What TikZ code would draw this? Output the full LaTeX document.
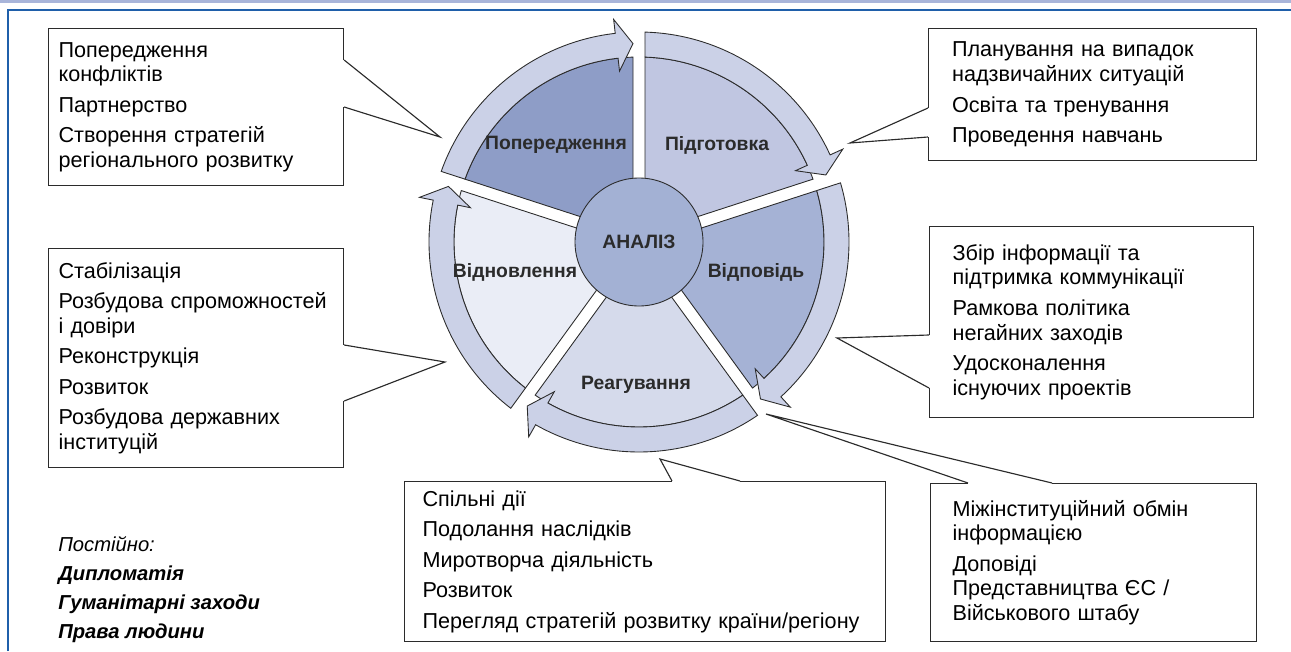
\documentclass[tikz,border=0pt]{standalone}
\usepackage{fontspec}
\setmainfont{Liberation Sans}
\usetikzlibrary{calc}
\definecolor{Ink}{HTML}{2B2B2B}
\definecolor{Frame}{HTML}{1F5FAA}
\definecolor{Strip}{HTML}{A9B5DA}
\definecolor{Band}{HTML}{CBD1E7}
\definecolor{Prev}{HTML}{8E9DC7}
\definecolor{Prep}{HTML}{C0C6E1}
\definecolor{Resp}{HTML}{A5B2D5}
\definecolor{React}{HTML}{D5DAEB}
\definecolor{Recov}{HTML}{EAEDF6}
\definecolor{Core}{HTML}{A3B1D4}
\newcommand{\gapw}{0.12}
% one phase of the cycle: sector plus curved arrow, drawn for 90 -> 18 and rotated
\newcommand{\phase}[2]{
  \begin{scope}[rotate=#1]
    \draw[draw=Ink, line width=0.5pt, fill=#2] ({90-asin(\gapw/1)}:1) -- ({90-asin(\gapw/3.7)}:3.7)
      arc[start angle={90-asin(\gapw/3.7)}, end angle={18+asin(\gapw/3.7)}, radius=3.7]
      -- ({18+asin(\gapw/1)}:1) -- cycle;
    \draw[draw=Ink, line width=0.5pt, fill=Band, line join=miter] ({90-asin(\gapw/3.7)}:3.7) -- ({90-asin(\gapw/4.2)}:4.2)
      arc[start angle={90-asin(\gapw/4.2)}, end angle=24.5, radius=4.2]
      -- (24.5:4.48) -- ({18+asin(\gapw/3.97)}:3.97) -- (24.5:3.44) -- (24.5:3.7)
      arc[start angle=24.5, end angle={90-asin(\gapw/3.7)}, radius=3.7] -- cycle;
  \end{scope}
}
\newcommand{\pointer}[3]{
  \draw[white, line width=1.5pt] (#1) -- (#2);
  \draw[Ink, line width=0.65pt, line join=miter] (#1) -- (#3) -- (#2);
}

\begin{document}
\begin{tikzpicture}[
    info/.style={draw=Ink, line width=0.65pt, align=left, anchor=north west, inner ysep=0pt, font=\fontsize{12.3}{14}\selectfont},
    phaselbl/.style={font=\bfseries\fontsize{11}{13}\selectfont, text=Ink}
  ]
    \useasboundingbox (-12.78,-8.18) rectangle (13.04,4.84);
    % frame
    \fill[Strip] (-12.78,4.84) rectangle (13.04,4.78);
    \draw[Frame, line width=1pt] (-12.62,-8.18) -- (-12.62,4.64) -- (13.04,4.64);

    % boxes
    \node[info, text width=5.5cm, inner xsep=0.2cm, minimum height=3.14cm] (prevbox) at (-11.82,4.28)
      {Попередження\\ конфліктів\\[3.4pt] Партнерство\\[3.4pt] Створення стратегій\\ регіонального розвитку};
    \node[info, text width=5.62cm, inner xsep=0.47cm, minimum height=2.64cm] (prepbox) at (5.78,4.28)
      {Планування на випадок\\ надзвичайних ситуацій\\[3.4pt] Освіта та тренування\\[3.4pt] Проведення навчань};
    \node[info, text width=5.56cm, inner xsep=0.46cm, minimum height=3.82cm] (respbox) at (5.80,0.32)
      {Збір інформації та\\ підтримка коммунікації\\[3.4pt] Рамкова політика\\ негайних заходів\\[3.4pt] Удосконалення\\ існуючих проектів};
    \node[info, text width=5.64cm, inner xsep=0.44cm, minimum height=3.16cm] (infobox) at (5.82,-4.82)
      {Міжінституційний обмін\\ інформацією\\[3.4pt] Доповіді\\ Представництва ЄС /\\ Військового штабу};
    \node[info, text width=8.9cm, inner xsep=0.36cm, minimum height=3.2cm] (reactbox) at (-4.70,-4.78)
      {Спільні дії\\[3.4pt] Подолання наслідків\\[3.4pt] Миротворча діяльність\\[3.4pt] Розвиток\\[3.4pt] Перегляд стратегій розвитку країни/регіону};
    \node[info, text width=5.5cm, inner xsep=0.2cm, minimum height=4.38cm] (recovbox) at (-11.82,-0.12)
      {Стабілізація\\[3.4pt] Розбудова спроможностей\\ і довіри\\[3.4pt] Реконструкція\\[3.4pt] Розвиток\\[3.4pt] Розбудова державних\\ інституцій};

    \node[anchor=north west, inner sep=0pt, align=left, font=\fontsize{11.5}{16.5}\selectfont] (always) at (-11.62,-5.88)
      {\textit{Постійно:}\\ \textbf{\textit{Дипломатія}}\\ \textbf{\textit{Гуманітарні заходи}}\\ \textbf{\textit{Права людини}}};

    % pointers
    \coordinate (prevtip) at (-3.98,2.10);
    \coordinate (preptip) at (4.22,1.98);
    \coordinate (resptip) at (3.96,-1.92);
    \coordinate (infotip) at (2.54,-3.44);
    \coordinate (reacttip) at (0.42,-4.34);
    \coordinate (recovtip) at (-3.88,-2.40);
    \pointer{prevbox.east |- 0,3.64}{prevbox.east |- 0,2.70}{prevtip}
    \pointer{prepbox.west |- 0,2.68}{prepbox.west |- 0,2.10}{preptip}
    \pointer{respbox.west |- 0,-1.86}{respbox.west |- 0,-2.92}{resptip}
    \pointer{infobox.north -| 6.58,0}{infobox.north -| 8.26,0}{infotip}
    \pointer{reactbox.north -| 0.66,0}{reactbox.north -| 2.02,0}{reacttip}
    \pointer{recovbox.east |- 0,-2.06}{recovbox.east |- 0,-3.18}{recovtip}

    % wheel
    \phase{0}{Prep}
    \phase{72}{Prev}
    \phase{144}{Recov}
    \phase{216}{React}
    \phase{-72}{Resp}
    \node[circle, draw=Ink, line width=0.5pt, fill=Core, minimum size=2.56cm, phaselbl] (core) at (0,0) {АНАЛІЗ};
    \node[phaselbl] (prevlbl) at (-1.66,1.94) {Попередження};
    \node[phaselbl] (preplbl) at (1.56,1.94) {Підготовка};
    \node[phaselbl] (resplbl) at (2.34,-0.60) {Відповідь};
    \node[phaselbl] (recovlbl) at (-2.48,-0.60) {Відновлення};
    \node[phaselbl] (reactlbl) at (-0.06,-2.86) {Реагування};
  \end{tikzpicture}
\end{document}
